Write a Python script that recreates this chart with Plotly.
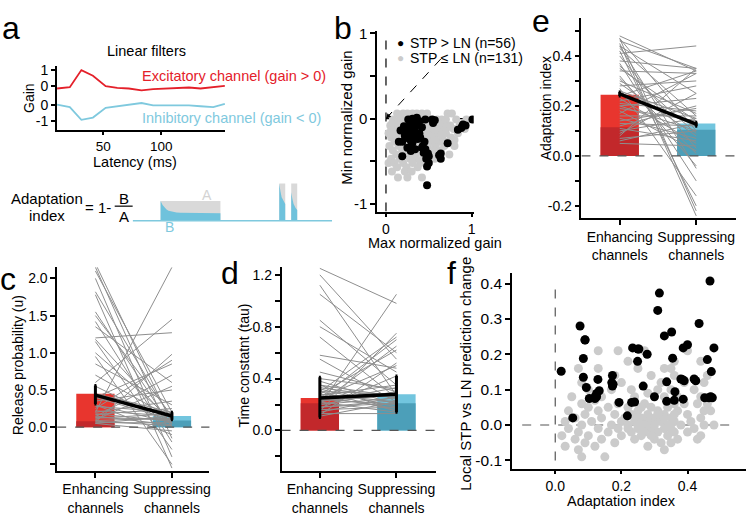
import plotly.graph_objects as go

W, H = 750, 516
FONT = "Liberation Sans, Arial, sans-serif"

# ---------------- data ----------------
# panel a: linear filters
latency = [10, 21, 31, 41, 52, 62, 72, 83, 93, 103, 114, 124, 134, 145, 155]
exc_gain = [-0.14, -0.06, 1.0, 0.65, 0.0, -0.1, -0.14, -0.25, -0.18, -0.14, -0.14, -0.08, -0.14, -0.04, 0.02]
inh_gain = [0.0, -0.15, -0.94, -0.8, -0.2, -0.1, 0.0, 0.1, -0.04, -0.04, -0.04, -0.04, -0.1, -0.15, 0.04]
EXC_OFFSET = 1.14  # vertical offset of excitatory trace in display

# schematic (arbitrary units)
base_t = [0, 100]
rect_A_t = [14, 44]
decay_dt = [0, 1, 2, 3, 4, 6, 8, 10, 14, 20, 30]
decay_v = [1.0, 0.8, 0.66, 0.57, 0.51, 0.45, 0.42, 0.40, 0.39, 0.38, 0.38]
pulse1_t = [73.5, 76.5]
pulse2_t = [79.5, 82.5]
pulse_h = 1.9
pulse1_dt = [0, 0.6, 1.2, 2.2, 3.0]
pulse1_v = [1.9, 1.5, 1.2, 1.0, 0.85]
pulse2_dt = [0, 0.6, 1.2, 2.2, 3.0]
pulse2_v = [1.45, 1.1, 0.85, 0.65, 0.55]

# panel b: scatter (max vs min normalized gain)
b_black_x = [0.26, 0.31, 0.36, 0.29, 0.39, 0.46, 0.54, 0.57, 0.32, 0.34, 0.42, 0.17, 0.27, 0.22,
             0.29, 0.34, 0.40, 0.15, 0.19, 0.29, 0.31, 0.43, 0.46, 0.49, 0.50, 0.29, 0.34, 0.19,
             0.64, 0.64, 0.72, 0.84, 0.89, 0.93, 1.01, 0.48, 0.48, 0.42, 0.25, 0.28, 0.33, 0.24,
             0.37, 0.45, 0.30, 0.21, 0.36, 0.55, 0.88, 0.47, 0.44, 0.26, 0.39, 0.50, 0.62, 0.90]
b_black_y = [-0.01, 0.0, 0.01, -0.05, -0.03, -0.01, -0.01, -0.02, -0.11, -0.10, -0.10, -0.14, -0.13, -0.20,
             -0.20, -0.20, -0.22, -0.27, -0.27, -0.26, -0.28, -0.32, -0.36, -0.41, -0.44, -0.38, -0.36, -0.44,
             -0.41, -0.47, -0.29, -0.13, -0.09, -0.08, -0.01, -0.56, -0.78, -0.34, -0.34, -0.08, -0.15, -0.17,
             -0.24, -0.27, -0.31, -0.09, -0.05, -0.05, -0.11, -0.47, -0.40, -0.23, -0.17, -0.52, -0.43, -0.07]
b_grey_x = [0.13, 0.20, 0.25, 0.31, 0.36, 0.42, 0.48, 0.72, 0.77,
            0.08, 0.16, 0.22, 0.39, 0.50, 0.60, 0.65, 0.70, 0.82, 0.94,
            0.05, 0.12, 0.18, 0.27, 0.45, 0.55, 0.68, 0.75, 0.86,
            0.10, 0.20, 0.36, 0.48, 0.58, 0.64, 0.79, 0.92,
            0.03, 0.14, 0.24, 0.31, 0.44, 0.52, 0.60, 0.70, 0.84,
            0.06, 0.17, 0.27, 0.36, 0.47, 0.56, 0.66, 0.76,
            0.10, 0.20, 0.33, 0.42, 0.53, 0.62, 0.72,
            0.04, 0.15, 0.24, 0.38, 0.49, 0.58, 0.68, 0.80,
            0.08, 0.19, 0.30, 0.45, 0.55, 0.64,
            0.12, 0.22, 0.35, 0.50, 0.60, 0.74,
            0.06, 0.16, 0.28, 0.34, 0.43, 0.57,
            0.03, 0.10, 0.20, 0.31, 0.40, 0.47,
            0.13, 0.24, 0.37,
            0.07, 0.22, 0.30,
            0.14, 0.25, 0.42,
            0.11, 0.29, 0.44, 0.53,
            0.07, 0.24, 0.34, 0.62, 0.90,
            0.15, 0.30, 0.41, 0.52, 0.72,
            0.06, 0.26, 0.40, 0.54, 0.68,
            0.09, 0.20, 0.38, 0.49, 0.65,
            0.13, 0.24, 0.46, 0.58, 0.80,
            0.28]
b_grey_y = [0.06] * 9 + [-0.01] * 10 + [-0.08] * 9 + [-0.12] * 8 + [-0.17] * 9 + [-0.22] * 8 + \
           [-0.27] * 7 + [-0.32] * 8 + [-0.37] * 6 + [-0.42] * 6 + [-0.47] * 6 + [-0.52] * 6 + \
           [-0.57] * 3 + [-0.62] * 3 + [-0.69] * 3 + [-0.03] * 4 + [-0.06] * 5 + [-0.10] * 5 + \
           [-0.14] * 5 + [-0.19] * 5 + [-0.25] * 5 + [-0.30] * 1
legend_b = ["STP > LN (n=56)", "STP \u2264 LN (n=131)"]

# panels c, d, e: paired channels
channels = ["Enhancing<br>channels", "Suppressing<br>channels"]

c_bar = [0.45, 0.15]
c_bar_low = [0.08, 0.09]
c_mean = [0.43, 0.15]
c_err_up = [0.13, 0.05]
c_err_dn = [0.12, 0.05]
c_left = [2.2, 2.15, 2.1, 2.0, 1.82, 1.78, 1.55, 1.5, 1.42, 1.35, 1.2, 1.18, 1.15, 1.0, 0.95, 0.85, 0.7,
          0.6, 0.55, 0.45, 0.4, 0.35, 0.3, 0.28, 0.25, 0.22, 0.2, 0.18, 0.17, 0.15, 0.14, 0.13, 0.12,
          0.1, 0.09, 0.08, 0.07, 0.06, 0.05, 0.05, 0.4, 0.3, 0.2]
c_right = [0.05, -0.15, 0.2, -0.4, 0.1, -0.55, 0.0, 0.15, -0.2, 0.6, 1.27, 0.05, -0.3, 0.1, -0.5, 0.3, 0.12,
           1.45, 0.05, 0.2, 0.1, 0.5, 0.06, 0.2, 0.9, 0.15, 2.15, 0.08, 0.25, 0.03, 0.7, 0.1, 0.18,
           0.55, 0.12, 0.02, 0.98, 0.06, 0.15, -0.05, 0.85, -0.1, 0.35]

d_bar = [0.25, 0.28]
d_bar_low = [0.21, 0.21]
d_mean = [0.25, 0.28]
d_err_up = [0.16, 0.14]
d_err_dn = [0.15, 0.14]
d_left = [1.25, 1.2, 1.12, 1.05, 0.85, 0.8, 0.72, 0.58, 0.55, 0.45, 0.4, 0.38, 0.35, 0.33, 0.32, 0.3, 0.3,
          0.28, 0.27, 0.26, 0.25, 0.24, 0.23, 0.22, 0.21, 0.2, 0.19, 0.18, 0.17, 0.16, 0.15, 0.14, 0.13,
          0.12, 0.11, 0.25, 0.28, 0.35, 0.22, 0.18, 0.3, 0.2]
d_right = [0.98, 0.55, 0.27, 0.6, 0.35, 0.45, 0.25, 0.48, 0.22, 0.3, 0.32, 0.2, 0.15, 0.25, 0.18, 0.72, 0.28,
           0.22, 0.35, 0.17, 0.5, 0.2, 0.27, 0.14, 0.65, 0.3, 1.05, 0.23, 0.42, 0.18, 0.75, 0.26, 0.13,
           0.52, 0.22, 0.7, 0.62, 0.26, 0.33, 0.21, 0.15, 0.25]

e_bar = [0.245, 0.13]
e_bar_low = [0.115, 0.105]
e_mean = [0.248, 0.127]
e_err = [0.008, 0.008]
e_left = [0.48, 0.47, 0.47, 0.46, 0.45, 0.44, 0.43, 0.42, 0.41, 0.40, 0.38, 0.37, 0.35, 0.34, 0.32, 0.30,
          0.29, 0.28, 0.27, 0.26, 0.25, 0.24, 0.23, 0.22, 0.21, 0.20, 0.19, 0.18, 0.17, 0.16, 0.15, 0.14,
          0.13, 0.12, 0.11, 0.10, 0.09, 0.08, 0.07, 0.06, 0.05, 0.44, 0.36, 0.31, 0.20]
e_right = [0.34, -0.22, 0.10, 0.35, -0.24, 0.25, 0.16, -0.20, 0.44, 0.03, 0.35, -0.10, 0.14, 0.33, -0.04, 0.17,
           0.08, 0.30, -0.16, 0.15, 0.12, 0.34, 0.05, 0.28, 0.18, 0.10, 0.14, 0.02, 0.33, 0.16, 0.07, 0.19,
           0.12, 0.20, 0.06, 0.15, 0.25, 0.35, 0.10, 0.13, 0.04, -0.05, 0.09, 0.01, 0.23]

# panel f: adaptation index vs prediction change
f_black_x = [0.018, 0.053, 0.075, 0.09, 0.085, 0.085, 0.094, 0.103, 0.12, 0.125, 0.133, 0.129, 0.125,
             0.173, 0.171, 0.173, 0.193, 0.218, 0.231, 0.234, 0.249, 0.253, 0.266, 0.278, 0.30, 0.31,
             0.315, 0.33, 0.337, 0.337, 0.352, 0.355, 0.362, 0.38, 0.384, 0.387, 0.387, 0.40, 0.425,
             0.435, 0.452, 0.46, 0.465, 0.468, 0.472, 0.475, 0.48, 0.24, 0.36, 0.12, 0.47, 0.42, 0.25,
             0.175, 0.09, 0.39]
f_black_y = [0.152, 0.02, 0.28, 0.241, 0.188, 0.135, 0.106, 0.075, 0.075, 0.089, 0.097, 0.129, 0.08,
             0.14, 0.12, 0.11, 0.064, 0.026, 0.064, 0.218, 0.18, 0.215, 0.11, 0.20, 0.08, 0.324,
             0.373, 0.252, 0.122, 0.067, 0.263, 0.189, 0.094, 0.13, 0.129, 0.073, 0.218, 0.227, 0.125,
             0.287, 0.077, 0.185, 0.077, 0.407, 0.151, 0.077, 0.218, 0.065, 0.07, 0.08, 0.08, 0.13, 0.215,
             0.115, 0.24, 0.125]
f_grey_x = [0.13, 0.19, 0.27, 0.40,
            0.22, 0.44, 0.36,
            0.07, 0.13, 0.25, 0.35, 0.33,
            0.18, 0.29, 0.36, 0.46,
            0.08, 0.20, 0.32, 0.39, 0.45,
            0.10, 0.17, 0.23, 0.31, 0.35, 0.42,
            0.05, 0.14, 0.24, 0.33, 0.37, 0.44, 0.47,
            0.08, 0.19, 0.27, 0.36, 0.39, 0.43, 0.46,
            0.10, 0.16, 0.22, 0.29, 0.34,
            0.04, 0.13, 0.25, 0.31, 0.37, 0.45, 0.47,
            0.09, 0.18, 0.23, 0.28, 0.33, 0.40,
            0.06, 0.14, 0.21, 0.26, 0.30, 0.35, 0.44,
            0.03, 0.11, 0.20, 0.24, 0.28, 0.32, 0.36, 0.41,
            0.08, 0.17, 0.22, 0.27, 0.34, 0.38, 0.45, 0.48,
            0.04, 0.13, 0.19, 0.25, 0.29, 0.33, 0.42,
            0.07, 0.16, 0.23, 0.27, 0.31, 0.36, 0.40,
            0.02, 0.10, 0.20, 0.26, 0.34, 0.44,
            0.06, 0.14, 0.24, 0.30, 0.37, 0.43,
            0.09, 0.18, 0.32, 0.35,
            0.03, 0.12, 0.28,
            0.07, 0.33,
            0.08, 0.15,
            0.25, 0.30, 0.33, 0.24, 0.35, 0.22, 0.31, 0.36, 0.26, 0.28, 0.29, 0.12]
f_grey_y = [0.21] * 4 + [0.18] * 3 + [0.16] * 5 + [0.14] * 4 + [0.12] * 5 + [0.10] * 6 + [0.08] * 7 + \
           [0.06] * 7 + [0.05] * 5 + [0.04] * 7 + [0.03] * 6 + [0.02] * 7 + [0.01] * 8 + [0.0] * 8 + \
           [-0.01] * 7 + [-0.02] * 7 + [-0.03] * 6 + [-0.04] * 6 + [-0.05] * 4 + [-0.06] * 3 + \
           [-0.07] * 2 + [-0.09] * 2 + \
           [0.0, 0.0, 0.02, 0.02, -0.01, -0.01, 0.03, 0.03, 0.05, 0.09, -0.03, 0.07]

# ---------------- colours ----------------
RED = "#e4202a"
BLUE = "#7fc9de"
BAR_RED = "#e8352e"
BAR_RED_D = "#c2282b"
BAR_BLUE = "#72c5de"
BAR_BLUE_D = "#4c9fb9"
GREY_LINE = "#8e8e8e"
GREY_DOT = "#cbcbcb"
DASH = "#555555"


def dom_x(a, b):
    return [a / W, b / W]


def dom_y(top, bottom):
    return [1 - bottom / H, 1 - top / H]


fig = go.Figure()

# ---- panel a filters ----
fig.add_trace(go.Scatter(x=latency, y=[g + EXC_OFFSET for g in exc_gain], mode="lines",
                         line=dict(color=RED, width=1.8), xaxis="x", yaxis="y", showlegend=False))
fig.add_trace(go.Scatter(x=latency, y=inh_gain, mode="lines",
                         line=dict(color=BLUE, width=1.8), xaxis="x", yaxis="y", showlegend=False))

# ---- schematic ----
fig.add_trace(go.Scatter(x=[rect_A_t[0], rect_A_t[0], rect_A_t[1], rect_A_t[1]], y=[0, 1, 1, 0],
                         fill="toself", fillcolor="#d9d9d9", line=dict(width=0), mode="lines",
                         xaxis="x7", yaxis="y7", showlegend=False, hoverinfo="skip"))
bt = [rect_A_t[0] + d for d in decay_dt]
fig.add_trace(go.Scatter(x=[bt[0]] + bt + [bt[-1]], y=[0] + decay_v + [0],
                         fill="toself", fillcolor="#6fc2dc", line=dict(width=0), mode="lines",
                         xaxis="x7", yaxis="y7", showlegend=False, hoverinfo="skip"))
for pt, pdt, pv in [(pulse1_t, pulse1_dt, pulse1_v), (pulse2_t, pulse2_dt, pulse2_v)]:
    fig.add_trace(go.Scatter(x=[pt[0], pt[0], pt[1], pt[1]], y=[0, pulse_h, pulse_h, 0],
                             fill="toself", fillcolor="#d9d9d9", line=dict(width=0), mode="lines",
                             xaxis="x7", yaxis="y7", showlegend=False, hoverinfo="skip"))
    tt = [pt[0] + d for d in pdt]
    fig.add_trace(go.Scatter(x=[tt[0]] + tt + [tt[-1]], y=[0] + pv + [0],
                             fill="toself", fillcolor="#6fc2dc", line=dict(width=0), mode="lines",
                             xaxis="x7", yaxis="y7", showlegend=False, hoverinfo="skip"))
fig.add_trace(go.Scatter(x=base_t, y=[0, 0], mode="lines", line=dict(color=BLUE, width=1.5),
                         xaxis="x7", yaxis="y7", showlegend=False))

# ---- panel b ----
fig.add_trace(go.Scatter(x=[0, 0], y=[-1.09, 1.0], mode="lines",
                         line=dict(color="black", width=1.2, dash="dash"),
                         xaxis="x2", yaxis="y2", showlegend=False))
fig.add_trace(go.Scatter(x=[0, 1.0], y=[0, 0], mode="lines",
                         line=dict(color="black", width=1.2, dash="dash"),
                         xaxis="x2", yaxis="y2", showlegend=False))
fig.add_trace(go.Scatter(x=[0.64, 0.04], y=[0.70, 0.044], mode="lines",
                         line=dict(color="black", width=1.0, dash="dash"),
                         xaxis="x2", yaxis="y2", showlegend=False))
fig.add_trace(go.Scatter(x=b_grey_x, y=b_grey_y, mode="markers",
                         marker=dict(color=GREY_DOT, size=8), name=legend_b[1],
                         xaxis="x2", yaxis="y2", showlegend=False))
fig.add_trace(go.Scatter(x=b_black_x, y=b_black_y, mode="markers",
                         marker=dict(color="black", size=8), name=legend_b[0],
                         xaxis="x2", yaxis="y2", showlegend=False))


def paired_panel(ax, bar, bar_low, left, right, mean, err_up, err_dn):
    xa, ya = "x" + ax, "y" + ax
    fig.add_trace(go.Bar(x=channels, y=bar, width=0.5, marker=dict(color=[BAR_RED, BAR_BLUE], line=dict(width=0)),
                         xaxis=xa, yaxis=ya, showlegend=False))
    fig.add_trace(go.Bar(x=channels, y=bar_low, width=0.5,
                         marker=dict(color=[BAR_RED_D, BAR_BLUE_D], line=dict(width=0)),
                         xaxis=xa, yaxis=ya, showlegend=False))
    lx, ly = [], []
    for l, r in zip(left, right):
        lx += [channels[0], channels[1], None]
        ly += [l, r, None]
    fig.add_trace(go.Scatter(x=lx, y=ly, mode="lines", line=dict(color=GREY_LINE, width=1),
                             xaxis=xa, yaxis=ya, showlegend=False, connectgaps=False))
    fig.add_trace(go.Scatter(x=channels, y=mean, mode="lines", line=dict(color="black", width=3.5),
                             error_y=dict(type="data", array=err_up, arrayminus=err_dn, color="black",
                                          thickness=3, width=1),
                             xaxis=xa, yaxis=ya, showlegend=False))


paired_panel("3", e_bar, e_bar_low, e_left, e_right, e_mean, e_err, e_err)
paired_panel("4", c_bar, c_bar_low, c_left, c_right, c_mean, c_err_up, c_err_dn)
paired_panel("5", d_bar, d_bar_low, d_left, d_right, d_mean, d_err_up, d_err_dn)

# ---- panel f ----
fig.add_trace(go.Scatter(x=[0, 0], y=[-0.1, 0.39], mode="lines",
                         line=dict(color=DASH, width=1.2, dash="dash"),
                         xaxis="x6", yaxis="y6", showlegend=False))
fig.add_trace(go.Scatter(x=[-0.1, 0.535], y=[0, 0], mode="lines",
                         line=dict(color=DASH, width=1.2, dash="dash"),
                         xaxis="x6", yaxis="y6", showlegend=False))
fig.add_trace(go.Scatter(x=f_grey_x, y=f_grey_y, mode="markers", marker=dict(color=GREY_DOT, size=9),
                         xaxis="x6", yaxis="y6", showlegend=False))
fig.add_trace(go.Scatter(x=f_black_x, y=f_black_y, mode="markers", marker=dict(color="black", size=9),
                         xaxis="x6", yaxis="y6", showlegend=False))

# ---------------- axes ----------------
base_ax = dict(showline=True, linecolor="black", linewidth=1.5, ticks="outside", ticklen=5, tickwidth=1.5,
               tickcolor="black", showgrid=False, zeroline=False,
               tickfont=dict(family=FONT, size=14, color="black"))


def ax(**kw):
    d = dict(base_ax)
    d.update(kw)
    return d


layout = dict(
    width=W, height=H, margin=dict(l=0, r=0, t=0, b=0), autosize=False,
    paper_bgcolor="white", plot_bgcolor="white", barmode="overlay",
    font=dict(family=FONT, color="black"), showlegend=False,
    # panel a
    xaxis=ax(domain=dom_x(57, 226), anchor="y", range=[9.8, 155.5], tickvals=[50, 100], ticklen=3,
             tickfont=dict(family=FONT, size=13.5, color="black")),
    yaxis=ax(domain=dom_y(60, 126), anchor="x", range=[-1.59, 2.41], ticklen=4,
             tickvals=[-1, 0, EXC_OFFSET, EXC_OFFSET + 1], ticktext=["-1", "0", "0", "1"]),
    # panel b
    xaxis2=ax(domain=dom_x(378, 475), anchor="y2", range=[-0.105, 1.025], tickvals=[0, 1], ticklen=4,
              tickfont=dict(family=FONT, size=14, color="black")),
    yaxis2=ax(domain=dom_y(25, 209), anchor="x2", range=[-1.09, 1.023],
              tickvals=[-1, -0.5, 0, 0.5, 1], ticktext=["-1", "", "0", "", "1"],
              tickfont=dict(family=FONT, size=15, color="black")),
    # panel e
    xaxis3=ax(domain=dom_x(583, 738), anchor="y3", range=[-0.5, 1.52], type="category",
              categoryorder="array", categoryarray=channels),
    yaxis3=ax(domain=dom_y(11.7, 216), anchor="x3", range=[-0.25, 0.55],
              tickvals=[-0.2, -0.1, 0, 0.1, 0.2, 0.3, 0.4, 0.5],
              ticktext=["-0.2", "", "0.0", "", "0.2", "", "0.4", ""]),
    # panel c
    xaxis4=ax(domain=dom_x(57.3, 210), anchor="y4", range=[-0.5, 1.49], type="category",
              categoryorder="array", categoryarray=channels),
    yaxis4=ax(domain=dom_y(266, 474), anchor="x4", range=[-0.588, 2.149],
              tickvals=[-0.5, 0, 0.5, 1.0, 1.5, 2.0], ticktext=["", "0.0", "0.5", "1.0", "1.5", "2.0"]),
    # panel d
    xaxis5=ax(domain=dom_x(282.3, 436.7), anchor="y5", range=[-0.5, 1.51], type="category",
              categoryorder="array", categoryarray=channels),
    yaxis5=ax(domain=dom_y(266, 474), anchor="x5", range=[-0.312, 1.258],
              tickvals=[-0.2, 0, 0.2, 0.4, 0.6, 0.8, 1.0, 1.2],
              ticktext=["", "0.0", "", "0.4", "", "0.8", "", "1.2"]),
    # panel f
    xaxis6=ax(domain=dom_x(513.3, 747.7), anchor="y6", range=[-0.131, 0.576], tickvals=[0, 0.2, 0.4],
              ticklen=3, ticktext=["0.0", "0.2", "0.4"], tickfont=dict(family=FONT, size=14, color="black")),
    yaxis6=ax(domain=dom_y(271.7, 472.3), anchor="x6", range=[-0.125, 0.43],
              tickvals=[-0.1, 0, 0.1, 0.2, 0.3, 0.4], ticktext=["-0.1", "0.0", "0.1", "0.2", "0.3", "0.4"],
              tickfont=dict(family=FONT, size=15.5, color="black")),
    # schematic
    xaxis7=dict(domain=dom_x(133, 333), anchor="y7", range=[0, 100], visible=False, showgrid=False),
    yaxis7=dict(domain=dom_y(176, 222), anchor="x7", range=[-0.185, 2.115], visible=False, showgrid=False),
)
fig.update_layout(**layout)


def ann(text, x, y, size=14, color="black", angle=0, xanchor="center", yanchor="middle"):
    fig.add_annotation(text=text, x=x / W, y=1 - y / H, xref="paper", yref="paper", showarrow=False,
                       font=dict(family=FONT, size=size, color=color), textangle=angle,
                       xanchor=xanchor, yanchor=yanchor)


# panel letters
for t, x, y in [("a", 11, 21.5), ("b", 344, 21.5), ("e", 542, 14.5), ("c", 8, 277.5),
                ("d", 231, 271.5), ("f", 453, 271.5)]:
    ann(t, x, y, size=32)

# panel a texts
ann("Linear filters", 147, 45, size=14.5)
ann("Excitatory channel (gain > 0)", 140, 70, size=14.5, color=RED, xanchor="left")
ann("Inhibitory channel (gain < 0)", 140, 113, size=14.5, color=BLUE, xanchor="left")
ann("Gain", 29, 93, size=14, angle=-90)
ann("Latency (ms)", 135, 158, size=14.5)

# schematic texts
ann("Adaptation", 47, 196, size=15)
ann("index", 47, 213, size=15)
ann("= 1-", 98, 205, size=15)
ann("B", 124, 196, size=15)
ann("A", 124, 214, size=15)
ann("A", 208, 192, size=14, color="#d3d3d3")
ann("B", 170, 225, size=14, color=BLUE)
fig.add_shape(type="line", xref="paper", yref="paper", x0=115 / W, x1=133 / W, y0=1 - 203.5 / H,
              y1=1 - 203.5 / H, line=dict(color="black", width=1.2))

# panel b texts + legend
ann("Min normalized gain", 348, 113, size=15, angle=-90)
ann("Max normalized gain", 436, 241, size=14.5)
ann("\u25CF", 402, 37, size=12, color="black")
ann(legend_b[0], 409, 37, size=14, xanchor="left")
ann("\u25CF", 402, 52, size=12, color=GREY_DOT)
ann(legend_b[1], 409, 52, size=14, xanchor="left")
fig.add_annotation(x=0, y=0, ax=0.07, ay=0.077, xref="x2", yref="y2", axref="x2", ayref="y2",
                   showarrow=True, arrowhead=2, arrowsize=1, arrowwidth=1, arrowcolor="black", text="")

# panel e, c, d, f titles
ann("Adaptation index", 547, 104, size=14, angle=-90)
ann("Release probability (u)", 18, 366, size=14, angle=-90)
ann("Time constatnt (tau)", 245, 366, size=14, angle=-90)
ann("Local STP vs LN prediction change", 466, 375, size=15, angle=-90)
ann("Adaptation index", 623, 505, size=14.5)

# zero dashed lines for c, d, e
for axn in ["3", "4", "5"]:
    fig.add_shape(type="line", xref="x" + axn, yref="y" + axn, x0=-0.5, x1=1.5, y0=0, y1=0,
                  line=dict(color=DASH, width=1.3, dash="dash"), layer="above")

fig.write_html("out.html", config={"displayModeBar": False},
               post_script="document.body.style.margin='0';document.body.style.padding='0';"
                           "document.documentElement.style.overflow='hidden';")
